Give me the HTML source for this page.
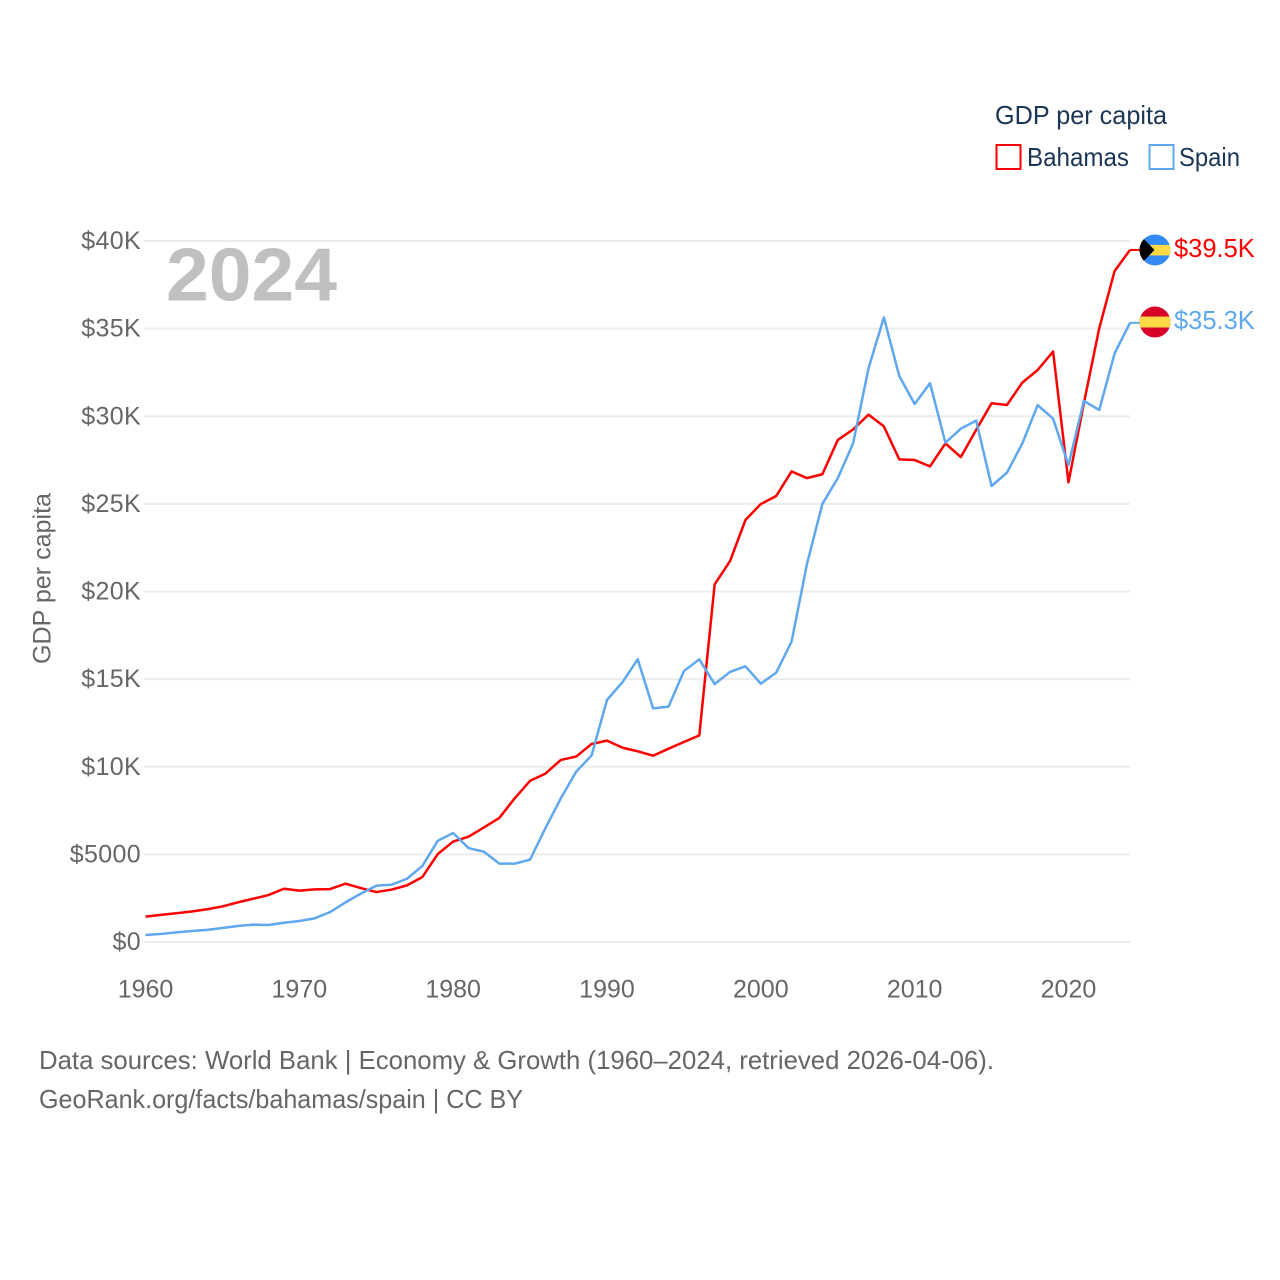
<!DOCTYPE html>
<html lang="en">
<head>
<meta charset="utf-8">
<title>GDP per capita: Bahamas and Spain</title>
<style>
  html, body { margin: 0; padding: 0; background: #fff; }
  svg { display: block; font-family: "Liberation Sans", sans-serif; }
</style>
</head>
<body>
<svg id="chart" xmlns="http://www.w3.org/2000/svg" width="1280" height="1280" viewBox="0 0 1280 1280">
  <rect width="1280" height="1280" fill="#ffffff"/>
  <g id="grid"></g>
  <g id="y-axis"></g>
  <g id="x-axis"></g>
  <text x="166" y="300.5" font-size="75" font-weight="700" fill="#c0c0c0" textLength="171" lengthAdjust="spacingAndGlyphs">2024</text>
  <text transform="translate(50.5 664) rotate(-90)" font-size="25" fill="#666666" textLength="171" lengthAdjust="spacingAndGlyphs">GDP per capita</text>
  <g id="series"></g>

  <defs>
    <clipPath id="flag-clip-bs"><circle id="clip-bs" cx="1155" cy="250" r="15.5"/></clipPath>
    <clipPath id="flag-clip-es"><circle id="clip-es" cx="1155" cy="322" r="15.5"/></clipPath>
  </defs>
  <g id="flag-bs" clip-path="url(#flag-clip-bs)">
    <rect x="1139" y="234" width="32" height="32" fill="#338af3"/>
    <rect x="1139" y="245" width="32" height="10.5" fill="#ffda44"/>
    <polygon points="1139,234 1154.5,250 1139,266" fill="#000000"/>
  </g>
  <g id="flag-es" clip-path="url(#flag-clip-es)">
    <rect x="1139" y="306" width="32" height="32" fill="#d80027"/>
    <rect x="1139" y="316.5" width="32" height="11" fill="#ffda44"/>
  </g>
  <g id="end-labels"></g>

  <g>
    <text x="995" y="124" font-size="26" fill="#1b3554" textLength="172" lengthAdjust="spacingAndGlyphs">GDP per capita</text>
    <g>
      <rect x="996.5" y="145" width="24" height="24" fill="none" stroke="#ff0000" stroke-width="2"/>
      <text x="1027" y="166" font-size="26" fill="#1b3554" textLength="102" lengthAdjust="spacingAndGlyphs">Bahamas</text>
    </g>
    <g>
      <rect x="1149.5" y="145" width="24" height="24" fill="none" stroke="#5fa8ee" stroke-width="2"/>
      <text x="1179" y="166" font-size="26" fill="#1b3554" textLength="61" lengthAdjust="spacingAndGlyphs">Spain</text>
    </g>
  </g>

  <g>
    <text x="39" y="1069" font-size="26" fill="#666666" textLength="955" lengthAdjust="spacingAndGlyphs">Data sources: World Bank | Economy &amp; Growth (1960–2024, retrieved 2026-04-06).</text>
    <text x="39" y="1108" font-size="26" fill="#666666" textLength="484" lengthAdjust="spacingAndGlyphs">GeoRank.org/facts/bahamas/spain | CC BY</text>
  </g>
</svg>
<script>
const startYear = 1960;
const bahamasValues = [
  1.45, 1.55, 1.64, 1.74, 1.87, 2.03, 2.26, 2.47, 2.68, 3.04,
  2.93, 3.00, 3.02, 3.33, 3.08, 2.85, 2.99, 3.23, 3.71, 5.02,
  5.73, 6.01, 6.54, 7.08, 8.20, 9.20, 9.61, 10.39, 10.58, 11.30,
  11.49, 11.09, 10.88, 10.63, 11.03, 11.41, 11.79, 20.41, 21.74, 24.08,
  24.99, 25.45, 26.85, 26.47, 26.69, 28.64, 29.25, 30.09, 29.42, 27.54,
  27.50, 27.14, 28.45, 27.67, 29.22, 30.74, 30.64, 31.92, 32.64, 33.69,
  26.23, 30.74, 35.02, 38.29, 39.49
];
const spainValues = [
  0.40, 0.46, 0.55, 0.63, 0.69, 0.80, 0.91, 0.99, 0.97, 1.10,
  1.20, 1.35, 1.71, 2.26, 2.76, 3.21, 3.27, 3.61, 4.34, 5.78,
  6.22, 5.36, 5.15, 4.47, 4.47, 4.70, 6.50, 8.20, 9.72, 10.65,
  13.81, 14.82, 16.13, 13.33, 13.43, 15.46, 16.13, 14.72, 15.41, 15.73,
  14.74, 15.37, 17.14, 21.57, 24.99, 26.46, 28.45, 32.73, 35.64, 32.30,
  30.70, 31.88, 28.49, 29.29, 29.75, 26.02, 26.78, 28.45, 30.64, 29.86,
  27.22, 30.87, 30.36, 33.59, 35.33
];
const yTickValues = [0, 5, 10, 15, 20, 25, 30, 35, 40];
const yTickLabels = ["$0", "$5000", "$10K", "$15K", "$20K", "$25K", "$30K", "$35K", "$40K"];
const xTickValues = [1960, 1970, 1980, 1990, 2000, 2010, 2020];
const xTickLabels = ["1960", "1970", "1980", "1990", "2000", "2010", "2020"];

const NS = "http://www.w3.org/2000/svg";
const lastYear = startYear + bahamasValues.length - 1;
function xScale(year) {
  return 145.5 + (year - 1960) * (1130 - 145.5) / 64;
}
function yScale(value) {
  return 942 - value * 17.525;
}
function make(tag, parent) {
  const el = document.createElementNS(NS, tag);
  parent.appendChild(el);
  return el;
}
function linePath(values) {
  return values.map(function (v, i) {
    return (i ? "L" : "M") + xScale(startYear + i).toFixed(2) + " " + yScale(v).toFixed(2);
  }).join(" ");
}

const gridGroup = document.getElementById("grid");
const yAxisGroup = document.getElementById("y-axis");
yTickValues.forEach(function (v, i) {
  const gridLine = make("line", gridGroup);
  
  
  gridLine.setAttribute("x1", 144);
  gridLine.setAttribute("x2", 1130);
  gridLine.setAttribute("y1", yScale(v));
  gridLine.setAttribute("y2", yScale(v));
  gridLine.setAttribute("stroke", "#ececec");
  gridLine.setAttribute("stroke-width", 2);

  const tick = make("text", yAxisGroup);
  
  
  tick.setAttribute("x", 141);
  tick.setAttribute("y", yScale(v) + 8);
  tick.setAttribute("text-anchor", "end");
  tick.setAttribute("font-size", 25);
  tick.setAttribute("letter-spacing", "0.35");
  tick.setAttribute("fill", "#666666");
  tick.textContent = yTickLabels[i];
});

const xAxisGroup = document.getElementById("x-axis");
xTickValues.forEach(function (year, i) {
  const tick = make("text", xAxisGroup);
  
  
  tick.setAttribute("x", xScale(year));
  tick.setAttribute("y", 997.5);
  tick.setAttribute("text-anchor", "middle");
  tick.setAttribute("font-size", 25);
  tick.setAttribute("fill", "#666666");
  tick.textContent = xTickLabels[i];
});

const seriesGroup = document.getElementById("series");
const bahamasLine = make("path", seriesGroup);


bahamasLine.setAttribute("d", linePath(bahamasValues));
bahamasLine.setAttribute("fill", "none");
bahamasLine.setAttribute("stroke", "#ff0000");
bahamasLine.setAttribute("stroke-width", 2.5);
bahamasLine.setAttribute("stroke-linejoin", "round");

const spainLine = make("path", seriesGroup);


spainLine.setAttribute("d", linePath(spainValues));
spainLine.setAttribute("fill", "none");
spainLine.setAttribute("stroke", "#5fa8ee");
spainLine.setAttribute("stroke-width", 2.5);
spainLine.setAttribute("stroke-linejoin", "round");

const bahamasLast = bahamasValues[bahamasValues.length - 1];
const spainLast = spainValues[spainValues.length - 1];

const bahamasConnector = make("line", seriesGroup);


bahamasConnector.setAttribute("x1", xScale(lastYear));
bahamasConnector.setAttribute("x2", 1140);
bahamasConnector.setAttribute("y1", yScale(bahamasLast));
bahamasConnector.setAttribute("y2", yScale(bahamasLast));
bahamasConnector.setAttribute("stroke", "#ff0000");
bahamasConnector.setAttribute("stroke-width", 2);

const spainConnector = make("line", seriesGroup);


spainConnector.setAttribute("x1", xScale(lastYear));
spainConnector.setAttribute("x2", 1140);
spainConnector.setAttribute("y1", yScale(spainLast));
spainConnector.setAttribute("y2", yScale(spainLast));
spainConnector.setAttribute("stroke", "#5fa8ee");
spainConnector.setAttribute("stroke-width", 2);

const endGroup = document.getElementById("end-labels");
const bahamasEnd = make("text", endGroup);


bahamasEnd.setAttribute("x", 1174);
bahamasEnd.setAttribute("y", yScale(bahamasLast) + 7);
bahamasEnd.setAttribute("font-size", 25.5);
bahamasEnd.setAttribute("fill", "#ff0000");
bahamasEnd.textContent = "$" + bahamasLast.toFixed(1) + "K";

const spainEnd = make("text", endGroup);


spainEnd.setAttribute("x", 1174);
spainEnd.setAttribute("y", yScale(spainLast) + 6);
spainEnd.setAttribute("font-size", 25.5);
spainEnd.setAttribute("fill", "#5fa8ee");
spainEnd.textContent = "$" + spainLast.toFixed(1) + "K";

const bsOffset = yScale(bahamasLast) - 250;
const esOffset = yScale(spainLast) - 322.8;
document.getElementById("flag-bs").setAttribute("transform", "translate(0 " + bsOffset + ")");
document.getElementById("flag-es").setAttribute("transform", "translate(0 " + esOffset + ")");
</script>
</body>
</html>
